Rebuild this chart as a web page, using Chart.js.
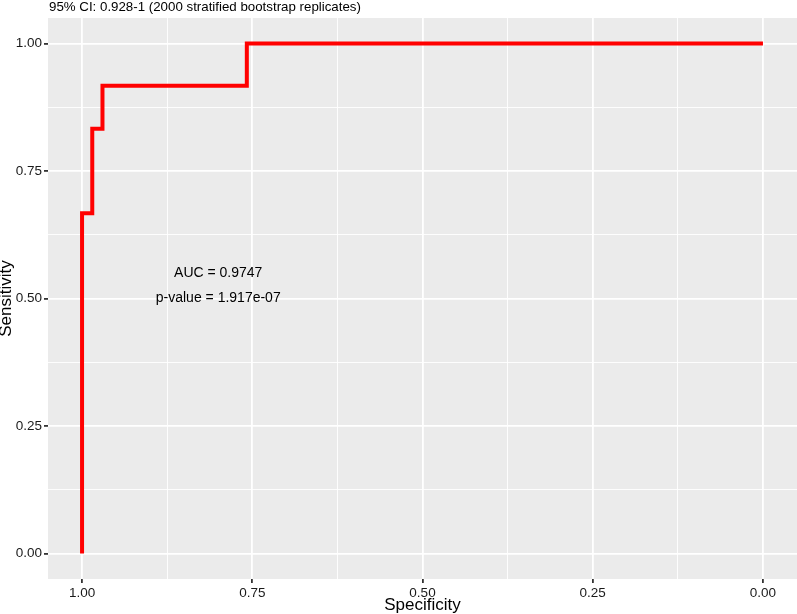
<!DOCTYPE html>
<html>
<head>
<meta charset="utf-8">
<script src="https://cdn.jsdelivr.net/npm/chart.js@4.4.0/dist/chart.umd.min.js"></script>
<style>
  body { margin: 0; background: #fff; }
  canvas { display: block; }
</style>
</head>
<body>
<canvas id="roc" width="797" height="614"></canvas>
<script>
// ROC curve
const specificity = [1.0, 1.0, 0.985, 0.985, 0.97, 0.97, 0.758, 0.758, 0.0];
const sensitivity = [0.0, 0.667, 0.667, 0.833, 0.833, 0.917, 0.917, 1.0, 1.0];

// axis breaks
const xBreaks = [0, 0.25, 0.5, 0.75, 1];
const yBreaks = [0, 0.25, 0.5, 0.75, 1];

const titleText = "95% CI: 0.928-1 (2000 stratified bootstrap replicates)";
const xTitle = "Specificity";
const yTitle = "Sensitivity";
const notes = [
  { x: 0.8, y: 0.55, text: "AUC = 0.9747" },
  { x: 0.8, y: 0.5, text: "p-value = 1.917e-07" },
];

const FONT = "'Liberation Sans', Arial, Helvetica, sans-serif";

// majors plus the midpoints between them (ggplot minor grid)
const withMinor = (breaks) => {
  const out = [];
  breaks.forEach((b, i) => {
    out.push({ value: b });
    if (i < breaks.length - 1) out.push({ value: (b + breaks[i + 1]) / 2 });
  });
  return out;
};
const isMajor = (v, breaks) => breaks.some((b) => Math.abs(b - v) < 1e-9);

const panelBg = {
  id: "panelBg",
  beforeDraw(chart) {
    const { ctx, chartArea: a } = chart;
    ctx.save();
    ctx.fillStyle = "#EBEBEB";
    ctx.fillRect(a.left, a.top, a.right - a.left, a.bottom - a.top);
    ctx.restore();
  },
};

// title, axis titles and the AUC note
const texts = {
  id: "texts",
  afterDraw(chart) {
    const { ctx, scales, chartArea: a } = chart;
    ctx.save();
    ctx.fillStyle = "#000";
    ctx.textBaseline = "middle";

    ctx.font = "13.3px " + FONT;
    ctx.textAlign = "left";
    ctx.fillText(titleText, 49, 7);

    ctx.font = "17px " + FONT;
    ctx.textAlign = "center";
    ctx.fillText(xTitle, (a.left + a.right) / 2, 605);
    ctx.save();
    ctx.translate(6, (a.top + a.bottom) / 2);
    ctx.rotate(-Math.PI / 2);
    ctx.fillText(yTitle, 0, 0);
    ctx.restore();

    ctx.font = "14px " + FONT;
    notes.forEach((n) => {
      ctx.fillText(n.text, scales.x.getPixelForValue(n.x), scales.y.getPixelForValue(n.y));
    });
    ctx.restore();
  },
};

const gridFor = (breaks) => ({
  color: "#FFFFFF",
  lineWidth: (c) => (c.tick && isMajor(c.tick.value, breaks) ? 1.8 : 0.9),
  tickColor: (c) => (c.tick && isMajor(c.tick.value, breaks) ? "#333333" : "rgba(0,0,0,0)"),
  tickLength: 4,
  drawTicks: true,
});

new Chart(document.getElementById("roc"), {
  type: "scatter",
  data: {
    datasets: [
      {
        data: specificity.map((s, i) => ({ x: s, y: sensitivity[i] })),
        showLine: true,
        borderColor: "#FF0000",
        backgroundColor: "#FF0000",
        borderWidth: 4,
        pointRadius: 0,
        tension: 0,
      },
    ],
  },
  options: {
    responsive: false,
    animation: false,
    layout: { padding: { top: 18, left: 0, right: 0, bottom: 0 } },
    plugins: {
      legend: { display: false },
      tooltip: { enabled: false },
    },
    scales: {
      x: {
        type: "linear",
        reverse: true,
        min: -0.05,
        max: 1.05,
        afterBuildTicks: (s) => { s.ticks = withMinor(xBreaks); },
        afterFit: (s) => { s.height = 35; },
        grid: gridFor(xBreaks),
        border: { display: false },
        ticks: {
          color: "#1a1a1a",
          font: { family: FONT, size: 13.5 },
          padding: 2,
          maxRotation: 0,
          autoSkip: false,
          callback: (v) => (isMajor(v, xBreaks) ? v.toFixed(2) : ""),
        },
      },
      y: {
        type: "linear",
        min: -0.05,
        max: 1.05,
        afterBuildTicks: (s) => { s.ticks = withMinor(yBreaks); },
        afterFit: (s) => { s.width = 48; },
        grid: gridFor(yBreaks),
        border: { display: false },
        ticks: {
          color: "#1a1a1a",
          font: { family: FONT, size: 13.5 },
          padding: 2,
          autoSkip: false,
          callback: (v) => (isMajor(v, yBreaks) ? v.toFixed(2) : ""),
        },
      },
    },
  },
  plugins: [panelBg, texts],
});
</script>
</body>
</html>
